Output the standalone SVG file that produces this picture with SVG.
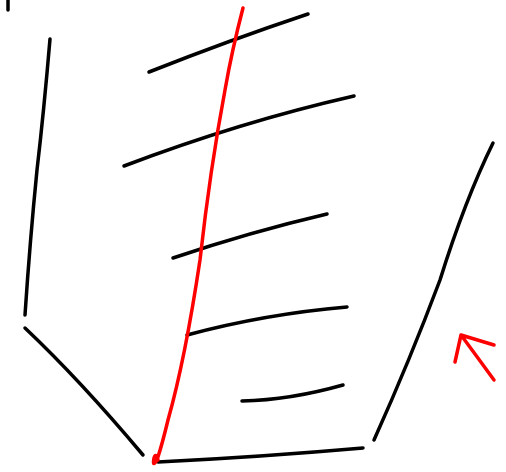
<svg xmlns="http://www.w3.org/2000/svg" width="506" height="472" viewBox="0 0 506 472">
<style>
.k{fill:none;stroke:#000;stroke-width:3.5;stroke-linecap:round;stroke-linejoin:round}
.r{fill:none;stroke:#f00;stroke-width:3.5;stroke-linecap:round;stroke-linejoin:round}
</style>
<rect width="506" height="472" fill="#fff"/>
<g id="connectors">
<path class="k" d="M8,0 L8,10"/>
<path class="k" d="M50,39 Q44,110 37,170 Q30,240 25,315"/>
<path class="k" d="M25,328 Q80,380 143,455"/>
<path class="k" d="M158,462 Q260,457 363,448"/>
<path class="k" d="M374,440 Q410,360 440,280 Q465,200 493,143"/>
<path class="k" d="M149,72 Q230,40 308,14"/>
<path class="k" d="M124,166 Q240,122 354,96"/>
<path class="k" d="M173,258 Q250,232 327,214"/>
<path class="k" d="M187,335 Q265,314 347,307"/>
<path class="k" d="M242,401 Q290,400 343,385"/>
<path class="r" d="M243,8 Q232,50 225,90 Q210,170 200,260 Q185,360 168,420 Q162,445 157,460 Q152,468 154,458 Q156,452 158,460"/>
<path class="r" d="M455,362 L461,335 L494,345 M461,335 Q478,358 494,380"/>
</g>
</svg>
